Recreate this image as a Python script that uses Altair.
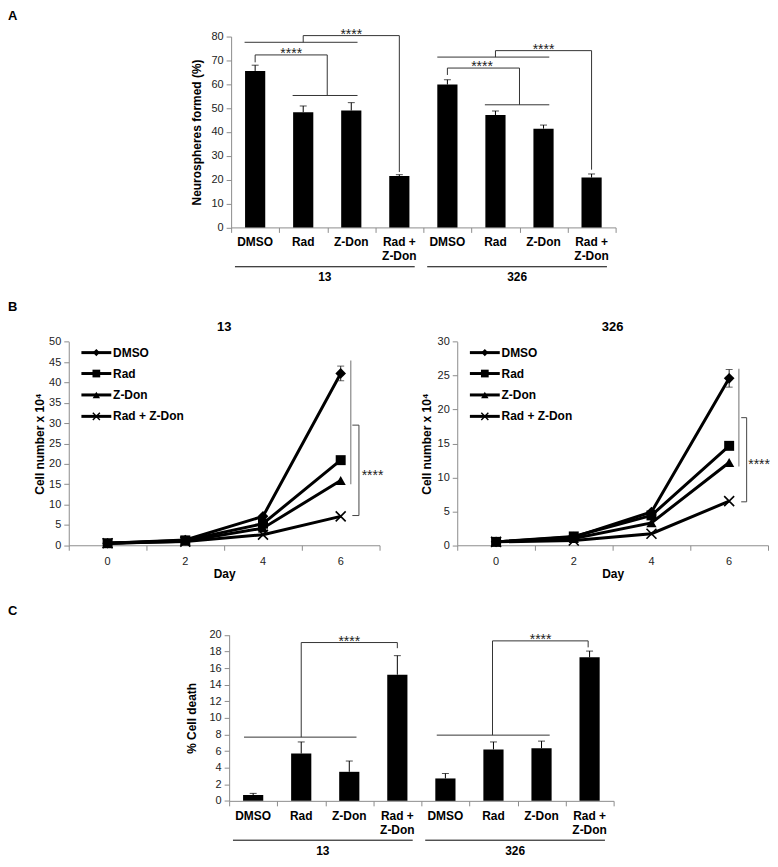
import altair as alt
import pandas as pd

FONT = "Liberation Sans, Arial, Helvetica, sans-serif"
AX = "#8c8c8c"
CW, CH = 762, 850

# ---------------- data ----------------
treatments = ["DMSO", "Rad", "Z-Don", "Rad +\nZ-Don"]
cell_lines = ["13", "326"]

neuro_13 = [65.6, 48.3, 49.0, 21.5]
neuro_13_err = [2.4, 2.6, 3.3, 0.6]
neuro_326 = [59.9, 47.1, 41.4, 20.9]
neuro_326_err = [2.0, 1.7, 1.5, 1.5]

death_13 = [0.7, 5.7, 3.5, 15.2]
death_13_err = [0.2, 1.4, 1.3, 2.3]
death_326 = [2.7, 6.2, 6.35, 17.3]
death_326_err = [0.6, 0.9, 0.85, 0.75]

days = [0, 2, 4, 6]
series = ["DMSO", "Rad", "Z-Don", "Rad + Z-Don"]
g13_dmso = [0.5, 1.3, 7.1, 42.2]
g13_rad = [0.5, 1.2, 5.3, 20.9]
g13_zdon = [0.5, 1.0, 4.2, 15.9]
g13_combo = [0.5, 0.9, 2.6, 7.1]
g13_dmso_err = [0, 0, 0, 1.8]
g326_dmso = [0.5, 1.2, 4.9, 24.6]
g326_rad = [0.5, 1.3, 4.4, 14.65]
g326_zdon = [0.5, 1.0, 3.3, 12.2]
g326_combo = [0.5, 0.7, 1.7, 6.5]
g326_dmso_err = [0, 0, 0, 1.3]

# significance brackets (x, y, x2, y2) in data units
A_brackets = [
    (0.28, 77.6, 2.63, 77.6), (1.5, 77.6, 1.5, 80.4), (1.5, 80.4, 3.5, 80.4), (3.5, 80.4, 3.5, 23.2),
    (0.5, 69.2, 0.5, 72.3), (0.5, 72.3, 2.0, 72.3), (2.0, 72.3, 2.0, 55.3), (1.28, 55.3, 2.63, 55.3),
    (4.29, 71.4, 6.62, 71.4), (5.5, 71.4, 5.5, 74.1), (5.5, 74.1, 7.5, 74.1), (7.5, 74.1, 7.5, 24.2),
    (4.5, 63.9, 4.5, 66.8), (4.5, 66.8, 6.0, 66.8), (6.0, 66.8, 6.0, 51.4), (5.28, 51.4, 6.62, 51.4),
]
A_stars = [(2.5, 80.4), (1.25, 72.3), (6.5, 74.1), (5.22, 66.8)]
C_brackets = [
    (0.31, 7.68, 2.65, 7.68), (1.5, 7.68, 1.5, 19.08), (1.5, 19.08, 3.5, 19.08), (3.5, 19.08, 3.5, 18.4),
    (4.32, 7.92, 6.67, 7.92), (5.48, 7.92, 5.48, 19.28), (5.48, 19.28, 7.47, 19.28), (7.47, 19.28, 7.47, 18.5),
]
C_stars = [(2.5, 19.08), (6.48, 19.28)]
B13_gray = [(6.26, 15.0, 6.26, 45.4)]
B13_bracket = [(6.30, 29.5, 6.47, 29.5), (6.47, 29.5, 6.47, 7.3), (6.47, 7.3, 6.30, 7.3)]
B13_star = [(6.82, 18.0)]
B326_gray = [(6.25, 11.6, 6.25, 26.0)]
B326_bracket = [(6.31, 18.8, 6.45, 18.8), (6.45, 18.8, 6.45, 6.4), (6.45, 6.4, 6.31, 6.4)]
B326_star = [(6.77, 12.4)]

# ---------------- layout (chart pixels) ----------------
A_XR, A_YR = (224, 610), (217.6, 26)
B1_XR, B2_XR, B_YR = (61, 373), (451, 763), (536.7, 332.3)
C_XR, C_YR = (222, 608), (793.3, 626.7)


def seg_df(segs):
    return pd.DataFrame(segs, columns=["x", "y", "x2", "y2"])


def star_df(st):
    return pd.DataFrame(st, columns=["x", "y"])


def letter_layer(letter, base):
    return alt.Chart(pd.DataFrame({"t": [letter]})).mark_text(
        align="left", baseline="alphabetic", fontSize=13, fontWeight="bold", color="black"
    ).encode(x=alt.value(0), y=alt.value(base), text="t:N")


def y_axis(values, title, xpx, ext, pad):
    return alt.Axis(orient="left", offset=-xpx, values=values, title=title, tickSize=5,
                    labelPadding=3, minExtent=ext, maxExtent=ext, titlePadding=pad,
                    titleFontSize=12, titleFontWeight="bold", grid=False)


def x_axis(values, ypx, title=None):
    return alt.Axis(orient="bottom", offset=ypx - CH, values=values, labels=False, title=title,
                    tickSize=5, minExtent=5, maxExtent=5, titlePadding=18,
                    titleFontSize=12, titleFontWeight="bold", grid=False)


def bar_panel(letter, letter_base, means, errs, ymax, ystep, ytitle, xr, yr, segs, stars, ext, pad):
    BW = 0.42
    rows = []
    for g, line in enumerate(cell_lines):
        for i, t in enumerate(treatments):
            p = g * len(treatments) + i + 0.5
            rows.append({"pos": p, "xl": p - BW / 2, "xr": p + BW / 2, "label": t,
                         "mean": means[g][i], "top": means[g][i] + errs[g][i], "zero": 0})
    df = pd.DataFrame(rows)
    n = len(cell_lines) * len(treatments)
    xs = alt.Scale(domain=[0, n], range=list(xr), nice=False, zero=False)
    ys = alt.Scale(domain=[0, ymax], range=list(yr), nice=False, zero=False)
    xa = x_axis(list(range(n + 1)), yr[0])
    ya = y_axis(list(range(0, ymax + 1, ystep)), ytitle, xr[0], ext, pad)

    def X(f):
        return alt.X(f, scale=xs, axis=xa)

    def Y(f):
        return alt.Y(f, scale=ys, axis=ya)

    base = alt.Chart(df)
    bars = base.mark_bar(color="black").encode(x=X("xl:Q"), x2="xr:Q", y=Y("mean:Q"), y2="zero:Q")
    err = base.mark_rule(color="black", strokeWidth=1).encode(x=X("pos:Q"), y=Y("mean:Q"), y2="top:Q")
    caps = base.mark_tick(color="black", orient="horizontal", size=7, thickness=1).encode(
        x=X("pos:Q"), y=Y("top:Q"))
    labels = base.mark_text(fontSize=12, fontWeight="bold", baseline="top", lineBreak="\n",
                            lineHeight=14, color="black").encode(
        x=X("pos:Q"), y=alt.value(yr[0] + 10), text="label:N")
    gdf = pd.DataFrame({"name": cell_lines,
                        "x1": [g * 4 + 0.08 for g in range(len(cell_lines))],
                        "x2": [g * 4 + 3.82 for g in range(len(cell_lines))],
                        "xc": [g * 4 + 1.95 for g in range(len(cell_lines))]})
    grule = alt.Chart(gdf).mark_rule(color="black", strokeWidth=1).encode(
        x=X("x1:Q"), x2="x2:Q", y=alt.value(yr[0] + 39.5))
    gtext = alt.Chart(gdf).mark_text(fontSize=12, fontWeight="bold", baseline="top", color="black").encode(
        x=X("xc:Q"), y=alt.value(yr[0] + 45), text="name:N")
    sg = alt.Chart(seg_df(segs)).mark_rule(color="#333", strokeWidth=1).encode(
        x=X("x:Q"), x2="x2:Q", y=Y("y:Q"), y2="y2:Q")
    st = alt.Chart(star_df(stars)).mark_text(text="****", fontSize=14, baseline="alphabetic",
                                             dy=3, color="#222").encode(x=X("x:Q"), y=Y("y:Q"))
    return alt.layer(bars, err, caps, labels, grule, gtext, sg, st, letter_layer(letter, letter_base))


X_PATH = "M-1,-1L1,1M-1,1L1,-1"
SHAPES = {"DMSO": ("diamond", 115, 50, True), "Rad": ("square", 100, 60, True),
          "Z-Don": ("triangle-up", 105, 55, True), "Rad + Z-Don": (X_PATH, 100, 50, False)}


def growth_panel(title, vals, errs, ymax, xr, yr, gray, bracket, star, ext, pad, letter=None, letter_base=0):
    rows = []
    for s, v in zip(series, vals):
        for d, y in zip(days, v):
            rows.append({"series": s, "day": d, "value": y})
    df = pd.DataFrame(rows)
    W = xr[1] - xr[0]
    H = yr[0] - yr[1]
    xs = alt.Scale(domain=[-1, 7], range=list(xr), nice=False, zero=False)
    ys = alt.Scale(domain=[0, ymax], range=list(yr), nice=False, zero=False)
    xa = x_axis([-1, 1, 3, 5, 7], yr[0], "Day")
    ya = y_axis(list(range(0, ymax + 1, 5)), "Cell number x 10\u2074", xr[0], ext, pad)

    def X(f):
        return alt.X(f, scale=xs, axis=xa)

    def Y(f):
        return alt.Y(f, scale=ys, axis=ya)

    layers = [alt.Chart(df).mark_line(color="black", strokeWidth=3).encode(
        x=X("day:Q"), y=Y("value:Q"), detail="series:N")]
    edf = pd.DataFrame({"day": days, "lo": [v - e for v, e in zip(vals[0], errs)],
                        "hi": [v + e for v, e in zip(vals[0], errs)], "e": errs})
    edf = edf[edf["e"] > 0]
    layers.append(alt.Chart(edf).mark_rule(color="#222", strokeWidth=1).encode(
        x=X("day:Q"), y=Y("lo:Q"), y2="hi:Q"))
    for f in ["lo:Q", "hi:Q"]:
        layers.append(alt.Chart(edf).mark_tick(color="#222", orient="horizontal", size=7, thickness=1).encode(
            x=X("day:Q"), y=Y(f)))
    for s in series:
        shp, size, _, filled = SHAPES[s]
        sub = df[df["series"] == s]
        if filled:
            m = alt.Chart(sub).mark_point(shape=shp, size=size, filled=True, color="black", opacity=1)
        else:
            m = alt.Chart(sub).mark_point(shape=shp, size=size, filled=False, color="black",
                                          strokeWidth=1.6, opacity=1)
        layers.append(m.encode(x=X("day:Q"), y=Y("value:Q")))
    ldf = pd.DataFrame({"day": days, "lab": [str(d) for d in days]})
    layers.append(alt.Chart(ldf).mark_text(fontSize=11, baseline="top", color="#222").encode(
        x=X("day:Q"), y=alt.value(yr[0] + 11), text="lab:N"))
    # in-plot legend
    py = [11, 32, 53.5, 75]

    def xv(px):
        return -1 + px / W * 8
    for i, s in enumerate(series):
        shp, _, lsize, filled = SHAPES[s]
        yv = ymax * (1 - py[i] / H)
        one = pd.DataFrame({"x1": [xv(12.7)], "x2": [xv(42.7)], "xm": [xv(27.7)], "xt": [xv(44.5)],
                            "y": [yv], "t": [s]})
        layers.append(alt.Chart(one).mark_rule(color="black", strokeWidth=3).encode(
            x=X("x1:Q"), x2="x2:Q", y=Y("y:Q")))
        if filled:
            pm = alt.Chart(one).mark_point(shape=shp, size=lsize, filled=True, color="black", opacity=1)
        else:
            pm = alt.Chart(one).mark_point(shape=shp, size=lsize, filled=False, color="black",
                                           strokeWidth=1.4, opacity=1)
        layers.append(pm.encode(x=X("xm:Q"), y=Y("y:Q")))
        layers.append(alt.Chart(one).mark_text(align="left", baseline="middle", fontSize=12,
                                               fontWeight="bold", color="black").encode(
            x=X("xt:Q"), y=Y("y:Q"), text="t:N"))
    layers.append(alt.Chart(seg_df(gray)).mark_rule(color="#888", strokeWidth=1.2).encode(
        x=X("x:Q"), x2="x2:Q", y=Y("y:Q"), y2="y2:Q"))
    layers.append(alt.Chart(seg_df(bracket)).mark_rule(color="#444", strokeWidth=1).encode(
        x=X("x:Q"), x2="x2:Q", y=Y("y:Q"), y2="y2:Q"))
    layers.append(alt.Chart(star_df(star)).mark_text(text="****", fontSize=14, baseline="middle",
                                                     dy=4, color="#222").encode(x=X("x:Q"), y=Y("y:Q")))
    layers.append(alt.Chart(pd.DataFrame({"t": [title]})).mark_text(
        fontSize=13, fontWeight="bold", baseline="alphabetic", color="black").encode(
        x=alt.value((xr[0] + xr[1]) / 2), y=alt.value(yr[1] - 11), text="t:N"))
    if letter:
        layers.append(letter_layer(letter, letter_base))
    return alt.layer(*layers)


A = bar_panel("A", 9.5, [neuro_13, neuro_326], [neuro_13_err, neuro_326_err], 80, 10,
              "Neurospheres formed (%)", A_XR, A_YR, A_brackets, A_stars, 22, 6)
C = bar_panel("C", 607, [death_13, death_326], [death_13_err, death_326_err], 20, 2,
              "% Cell death", C_XR, C_YR, C_brackets, C_stars, 24, 7)
B1 = growth_panel("13", [g13_dmso, g13_rad, g13_zdon, g13_combo], g13_dmso_err, 50, B1_XR, B_YR,
                  B13_gray, B13_bracket, B13_star, 16, 6, "B", 302)
B2 = growth_panel("326", [g326_dmso, g326_rad, g326_zdon, g326_combo], g326_dmso_err, 30, B2_XR, B_YR,
                  B326_gray, B326_bracket, B326_star, 18, 6)

chart = alt.layer(A, B1, B2, C).resolve_scale(
    x="independent", y="independent"
).resolve_axis(
    x="independent", y="independent"
).properties(
    width=CW, height=CH, padding=0, background="white"
).configure(font=FONT).configure_view(stroke=None).configure_axis(
    labelFont=FONT, titleFont=FONT, labelFontSize=11, labelColor="#222", titleColor="black",
    domainColor=AX, tickColor=AX, grid=False
)

chart.save("out.html", embed_options={"renderer": "svg", "actions": False})
